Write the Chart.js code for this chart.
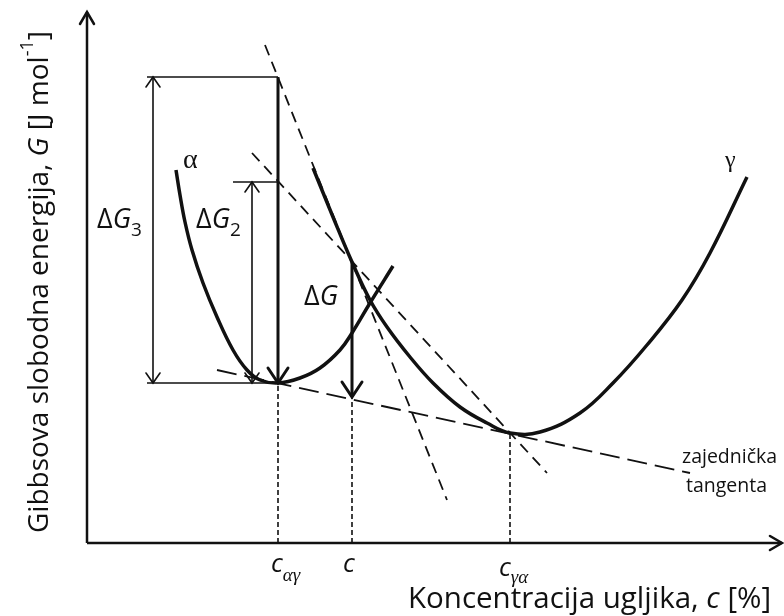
<!DOCTYPE html>
<html>
<head>
<meta charset="utf-8">
<script src="https://cdn.jsdelivr.net/npm/chart.js@4"></script>
<style>
  body { margin: 0; background: #fff; }
  canvas { display: block; }
</style>
</head>
<body>
<canvas id="chart" width="784" height="616"></canvas>
<script>
// diagram units: c along x, G upward, origin where the two axes meet
const alphaC = [89, 93, 98, 105, 116, 130, 146, 160, 173, 191, 213, 233, 253, 265, 283, 306]
const alphaG = [373, 348, 321, 293, 260, 226, 193, 173, 163, 160, 165, 175, 193, 210, 240, 277]

const gammaC = [226, 246, 265, 283, 300, 323, 346, 373, 400, 423, 453, 493, 526, 560, 595, 623, 660]
const gammaG = [375, 326, 281, 243, 216, 186, 160, 136, 120, 110, 111, 130, 160, 198, 243, 290, 366]

// dashed tangents
const steepC = [178, 360], steepG = [498, 43]
const midC = [165, 460], midG = [390, 70]
const commonC = [130, 603], commonG = [173, 70]

// concentrations marked on the c axis and their G on the curves / tangent
const cMarks = [191, 265, 423]
const gMarks = [160, 146, 110]

// energy differences
const dG3C = 66, dG3Top = 466, dG3Bot = 160
const dG2C = 165, dG2Top = 361
const dGC = 265, dGTop = 281, dGBot = 146
const cAlphaGamma = 191

const axisCMax = 695, axisGMax = 531

const pts = (xs, ys) => xs.map((v, i) => ({ x: v, y: ys[i] }))
const seg = (data, width, dash) => ({
  data: data, showLine: true, borderColor: '#111', borderWidth: width,
  borderDash: dash || [], pointRadius: 0, tension: 0, fill: false
})

const curve = (data) => Object.assign(seg(data, 3.5), { tension: 0.4, cubicInterpolationMode: 'default' })

let datasets = [
  seg([{ x: 0, y: 0 }, { x: 0, y: axisGMax }], 2.5),
  seg([{ x: 0, y: 0 }, { x: axisCMax, y: 0 }], 2.5),
  seg(pts(steepC, steepG), 1.8, [11, 7]),
  seg(pts(midC, midG), 1.8, [11, 7]),
  seg(pts(commonC, commonG), 1.8, [20, 8]),
  curve(pts(alphaC, alphaG)),
  curve(pts(gammaC, gammaG)),
  // Delta G3 / G2 frames
  seg([{ x: 60, y: dG3Top }, { x: cAlphaGamma, y: dG3Top }], 1.6),
  seg([{ x: 60, y: dG3Bot }, { x: cAlphaGamma, y: dG3Bot }], 1.6),
  seg([{ x: dG3C, y: dG3Top }, { x: dG3C, y: dG3Bot }], 1.6),
  seg([{ x: 146, y: dG2Top }, { x: cAlphaGamma, y: dG2Top }], 1.6),
  seg([{ x: dG2C, y: dG2Top }, { x: dG2C, y: dG3Bot }], 1.6),
  seg([{ x: cAlphaGamma, y: dG3Top }, { x: cAlphaGamma, y: dG3Bot }], 3),
  seg([{ x: dGC, y: dGTop }, { x: dGC, y: dGBot }], 3)
]
cMarks.forEach((c, i) => datasets.push(seg([{ x: c, y: 0 }, { x: c, y: gMarks[i] }], 1.6, [5, 3])))

const overlay = {
  id: 'overlay',
  afterDatasetsDraw(chart) {
    const ctx = chart.ctx
    const px = v => chart.scales.x.getPixelForValue(v)
    const py = v => chart.scales.y.getPixelForValue(v)

    // open V head, tip at (x1,y1), pointing away from (x0,y0)
    function head(x0, y0, x1, y1, len, half, w) {
      const a = Math.atan2(py(y1) - py(y0), px(x1) - px(x0))
      const tx = px(x1), ty = py(y1)
      const bx = tx - len * Math.cos(a), by = ty - len * Math.sin(a)
      ctx.save()
      ctx.strokeStyle = '#111'
      ctx.lineWidth = w
      ctx.lineCap = 'round'
      ctx.beginPath()
      ctx.moveTo(bx + half * Math.sin(a), by - half * Math.cos(a))
      ctx.lineTo(tx, ty)
      ctx.lineTo(bx - half * Math.sin(a), by + half * Math.cos(a))
      ctx.stroke()
      ctx.restore()
    }
    head(0, 0, 0, axisGMax, 12, 7, 2.5)
    head(0, 0, axisCMax, 0, 12, 7, 2.5)
    head(dG3C, dG3Bot, dG3C, dG3Top, 10, 7, 1.6)
    head(dG3C, dG3Top, dG3C, dG3Bot, 10, 7, 1.6)
    head(dG2C, dG3Bot, dG2C, dG2Top, 10, 7, 1.6)
    head(dG2C, dG2Top, dG2C, dG3Bot, 10, 7, 1.6)
    head(cAlphaGamma, dG3Top, cAlphaGamma, dG3Bot, 15, 10, 3)
    head(dGC, dGTop, dGC, dGBot, 15, 10, 3)

    // runs of text: [string, font, dy]
    function runs(x, y, parts) {
      ctx.save()
      ctx.fillStyle = '#111'
      ctx.textBaseline = 'alphabetic'
      ctx.textAlign = 'left'
      let cx = x
      parts.forEach(p => {
        ctx.font = p[1]
        ctx.fillText(p[0], cx, y + (p[2] || 0))
        cx += ctx.measureText(p[0]).width
      })
      ctx.restore()
    }
    const sans = '"Open Sans", sans-serif'
    const serif = '"Liberation Serif", serif'

    runs(px(96), py(375), [['α', '28px ' + serif]])
    runs(px(638), py(376), [['γ', '24px ' + serif]])
    runs(px(10), py(315), [['Δ', '27px ' + sans], ['G', 'italic 27px ' + sans], ['3', '19px ' + sans, 8]])
    runs(px(109), py(315), [['Δ', '27px ' + sans], ['G', 'italic 27px ' + sans], ['2', '19px ' + sans, 8]])
    runs(px(217), py(238), [['Δ', '27px ' + sans], ['G', 'italic 27px ' + sans]])

    runs(px(184), py(-29), [['c', 'italic 26px ' + sans], ['αγ', 'italic 19px ' + serif, 9]])
    runs(px(256), py(-29), [['c', 'italic 26px ' + sans]])
    runs(px(412), py(-33), [['c', 'italic 26px ' + sans], ['γα', 'italic 19px ' + serif, 7]])

    runs(px(595), py(80), [['zajednička', '19.5px ' + sans]])
    runs(px(599), py(51), [['tangenta', '19.5px ' + sans]])

    runs(px(321), py(-65), [['Koncentracija ugljika, ', '29.5px ' + sans], ['c', 'italic 29.5px ' + sans], [' [%]', '29.5px ' + sans]])

    // rotated G axis title
    ctx.save()
    ctx.translate(px(-39), py(10))
    ctx.rotate(-Math.PI / 2)
    runs(0, 0, [['Gibbsova slobodna energija, ', '28px ' + sans], ['G', 'italic 28px ' + sans],
      [' [J mol', '28px ' + sans], ['-1', '18px ' + sans, -15], [']', '28px ' + sans]])
    ctx.restore()
  }
}

new Chart(document.getElementById('chart'), {
  type: 'scatter',
  data: { datasets: datasets },
  options: {
    responsive: false,
    animation: false,
    layout: { padding: 0 },
    plugins: { legend: { display: false }, tooltip: { enabled: false } },
    scales: {
      x: { type: 'linear', min: -87, max: 697, display: false },
      y: { type: 'linear', min: -73, max: 543, display: false }
    }
  },
  plugins: [overlay]
})
</script>
</body>
</html>
